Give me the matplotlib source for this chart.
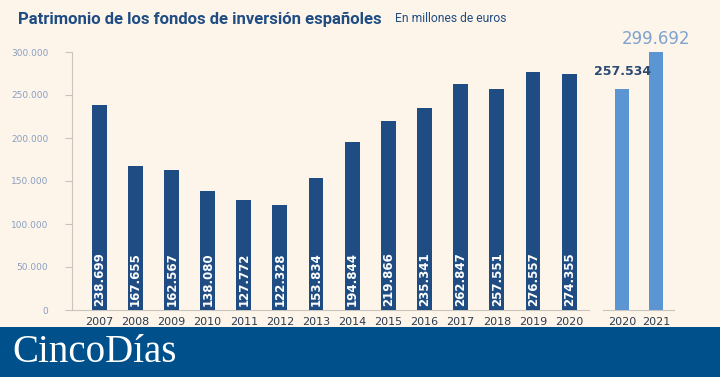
import matplotlib
matplotlib.use("Agg")
import matplotlib.pyplot as plt
from matplotlib.patches import Rectangle

years = ["2007", "2008", "2009", "2010", "2011", "2012", "2013",
         "2014", "2015", "2016", "2017", "2018", "2019", "2020"]
values = [238699, 167655, 162567, 138080, 127772, 122328, 153834,
          194844, 219866, 235341, 262847, 257551, 276557, 274355]
value_labels = ["238.699", "167.655", "162.567", "138.080", "127.772", "122.328", "153.834",
                "194.844", "219.866", "235.341", "262.847", "257.551", "276.557", "274.355"]
extra_years = ["2020", "2021"]
extra_values = [257534, 299692]
extra_labels = ["257.534", "299.692"]
yticks = [0, 50000, 100000, 150000, 200000, 250000, 300000]
ytick_labels = ["0", "50.000", "100.000", "150.000", "200.000", "250.000", "300.000"]

BG = "#fdf4ea"
DARK = "#1f4d83"
LIGHT = "#5b96d2"
TICK = "#8a9fc0"
FOOT = "#00518b"

fig = plt.figure(figsize=(7.2, 3.77), dpi=100, facecolor=BG)
W, H = 720, 377
ax = fig.add_axes([72 / W, 1 - 310 / H, (674 - 72) / W, (310 - 52) / H])
ax.set_facecolor(BG)

x_dark = list(range(len(years)))
x_light = [14.47, 15.41]
bw = 0.41

ax.bar(x_dark, values, width=bw, color=DARK, zorder=3)
ax.bar(x_light, extra_values, width=0.38, color=LIGHT, zorder=3)

for x, lab in zip(x_dark, value_labels):
    ax.text(x + 0.01, 5000, lab, rotation=90, ha="center", va="bottom",
            color="white", fontsize=8.5, fontweight="bold", family="DejaVu Sans", zorder=4)

ax.text(x_light[0], extra_values[0] + 12000, extra_labels[0], ha="center", va="bottom",
        color="#2a4a72", fontsize=9, fontweight="bold", zorder=4)
ax.text(x_light[1], extra_values[1] + 5500, extra_labels[1], ha="center", va="bottom",
        color="#7fa3cf", fontsize=12, zorder=4)

ax.set_xlim(-0.75, 15.9)
ax.set_ylim(0, 300000)
ax.set_yticks(yticks)
ax.set_yticklabels(ytick_labels, color=TICK, fontsize=6.5)
ax.set_xticks(x_dark + x_light)
ax.set_xticklabels(years + extra_years, color="#2d3b4f", fontsize=8)
ax.tick_params(axis="y", length=5, color="#c9c4bd", width=0.8, pad=12)
ax.tick_params(axis="x", length=0, pad=5)
for s in ["top", "right", "bottom"]:
    ax.spines[s].set_visible(False)
ax.spines["left"].set_color("#c9c4bd")
ax.spines["left"].set_linewidth(0.8)
# baselines
ax.plot([-0.75, 13.55], [0, 0], color="#c9c4bd", lw=0.8, clip_on=False, zorder=2)
ax.plot([13.95, 15.9], [0, 0], color="#c9c4bd", lw=0.8, clip_on=False, zorder=2)

fig.text(18 / W, 1 - 19 / H, "Patrimonio de los fondos de inversión españoles",
         color="#1f4d83", fontsize=12, fontweight="bold", va="center", ha="left",
         family="Roboto")
fig.text(395 / W, 1 - 19 / H, "En millones de euros", color="#1f4d83",
         fontsize=8.7, va="center", ha="left", family="Roboto")

fig.patches.append(Rectangle((0, 0), 1, 50 / H, transform=fig.transFigure,
                             facecolor=FOOT, edgecolor="none", zorder=0))
fig.text(12 / W, 1 - 352 / H, "CincoDías", color="white", fontsize=28,
         family="Liberation Serif", va="center", ha="left")

fig.savefig("out.png", dpi=100, facecolor=BG)
